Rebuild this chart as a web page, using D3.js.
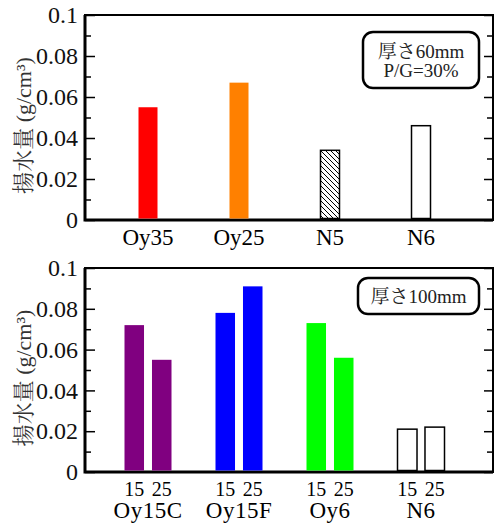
<!DOCTYPE html>
<html>
<head>
<meta charset="utf-8">
<script src="https://cdn.jsdelivr.net/npm/d3@7"></script>
</head>
<body style="margin:0">
<script>
"use strict"

let svgWidth = 495
let svgHeight = 527

// chart values
let topCategories = ["Oy35", "Oy25", "N5", "N6"]
let topValues = [0.055, 0.067, 0.034, 0.046]

let bottomGroups = ["Oy15C", "Oy15F", "Oy6", "N6"]
let subLabels = ["15", "25"]
let bottomValues15 = [0.072, 0.078, 0.073, 0.021]
let bottomValues25 = [0.055, 0.091, 0.056, 0.022]

let yTicks = [0, 0.02, 0.04, 0.06, 0.08, 0.1]
let yMinorTicks = [0.01, 0.03, 0.05, 0.07, 0.09]

// label pieces: [kanji part, latin part]
let yLabel = ["揚水量", " (g/cm³)"]
let noteTop = [["厚さ", "60mm"], ["", "P/G=30%"]]
let noteBottom = [["厚さ", "100mm"]]

// styles
let topColors = ["#ff0000", "#ff8000", "url(#hatch)", "#ffffff"]
let bottomColors = ["#800080", "#0000ff", "#00ff00", "#ffffff"]
let latinFont = '"Liberation Serif"'
let cjkFont = '"Noto Serif CJK JP", "Liberation Serif"'

let leftMargin = 85
let rightEdge = 493

let svg = d3.select("body")
    .append("svg")
    .attr("width", svgWidth)
    .attr("height", svgHeight)

let defs = svg.append("defs")
let pat = defs.append("pattern")
    .attr("id", "hatch")
    .attr("patternUnits", "userSpaceOnUse")
    .attr("width", 5)
    .attr("height", 5)
pat.append("rect").attr("width", 5).attr("height", 5).attr("fill", "#fff")
pat.append("path")
    .attr("d", "M-1,-1 L6,6 M-1,4 L1,6 M4,-1 L6,1")
    .attr("stroke", "#000")
    .attr("stroke-width", 1)

// writes a mixed kanji / latin label into a text element
function mixedText(sel, parts) {
    sel.attr("font-family", cjkFont)
    if (parts[0]) sel.append("tspan").text(parts[0])
    sel.append("tspan").attr("font-family", latinFont).text(parts[1])
}

// draws frame, y ticks and y label for one panel, returns y scale
function drawFrame(top, bottom) {
    let yScale = d3.scaleLinear()
        .domain([0, 0.1])
        .range([bottom, top])

    let fmt = function (d) { return d === 0 ? "0" : String(+d.toFixed(2)) }

    let left = svg.append("g")
        .attr("transform", `translate(${leftMargin},0)`)
        .call(d3.axisLeft(yScale).tickValues(yTicks).tickSize(-10).tickPadding(7).tickFormat(fmt))
    left.selectAll("text")
        .attr("font-family", latinFont)
        .attr("font-size", 24)
        .attr("fill", "#111")
    left.select(".domain").remove()

    let leftMinor = svg.append("g")
        .attr("transform", `translate(${leftMargin},0)`)
        .call(d3.axisLeft(yScale).tickValues(yMinorTicks).tickSize(-6).tickFormat(""))
    leftMinor.select(".domain").remove()

    let right = svg.append("g")
        .attr("transform", `translate(${rightEdge},0)`)
        .call(d3.axisRight(yScale).tickValues(yTicks).tickSize(-9).tickFormat(""))
    right.select(".domain").remove()

    let rightMinor = svg.append("g")
        .attr("transform", `translate(${rightEdge},0)`)
        .call(d3.axisRight(yScale).tickValues(yMinorTicks).tickSize(-6).tickFormat(""))
    rightMinor.select(".domain").remove()

    svg.selectAll("g.tick line").attr("stroke-width", 1.5)

    svg.append("rect")
        .attr("x", leftMargin)
        .attr("y", top)
        .attr("width", rightEdge - leftMargin)
        .attr("height", bottom - top)
        .attr("fill", "none")
        .attr("stroke", "#000")
        .attr("stroke-width", 2)

    svg.append("path")
        .attr("d", `M${leftMargin},${top} V${bottom} H${rightEdge}`)
        .attr("fill", "none")
        .attr("stroke", "#000")
        .attr("stroke-width", 3)

    let lab = svg.append("text")
        .attr("transform", `translate(31,${(top + bottom) / 2 + 8}) rotate(-90)`)
        .attr("text-anchor", "middle")
        .attr("font-size", 22)
        .attr("fill", "#333")
    mixedText(lab, yLabel)

    return yScale
}

// legend box with rounded corners
function drawNote(x, y, w, h, lines, baselines) {
    svg.append("rect")
        .attr("x", x)
        .attr("y", y)
        .attr("width", w)
        .attr("height", h)
        .attr("rx", 10)
        .attr("fill", "#fff")
        .attr("stroke", "#000")
        .attr("stroke-width", 2.5)
    lines.forEach(function (line, i) {
        let t = svg.append("text")
            .attr("x", x + w / 2)
            .attr("y", baselines[i])
            .attr("text-anchor", "middle")
            .attr("font-size", 19)
            .attr("fill", "#222")
        mixedText(t, line)
    })
}

/* top panel */
let yTop = drawFrame(15, 220)

let xTop = d3.scalePoint()
    .domain(topCategories)
    .range([leftMargin + 63, leftMargin + 336])

svg.selectAll("rect.topbar")
    .data(topCategories)
    .join("rect")
    .classed("topbar", true)
    .attr("x", function (d) { return xTop(d) - 9.5 })
    .attr("width", 19)
    .attr("y", function (d, i) { return yTop(topValues[i]) })
    .attr("height", function (d, i) { return yTop(0) - 1.5 - yTop(topValues[i]) })
    .attr("fill", function (d, i) { return topColors[i] })
    .attr("stroke", function (d, i) { return i >= 2 ? "#000" : "none" })
    .attr("stroke-width", 1.5)

svg.selectAll("text.toplabel")
    .data(topCategories)
    .join("text")
    .classed("toplabel", true)
    .attr("x", function (d) { return xTop(d) })
    .attr("y", 245)
    .attr("text-anchor", "middle")
    .attr("font-family", latinFont)
    .attr("font-size", 23)
    .text(function (d) { return d })

drawNote(363, 32, 116, 56, noteTop, [58, 77])

/* bottom panel */
let yBottom = drawFrame(268, 472)

let xGroup = d3.scalePoint()
    .domain(bottomGroups)
    .range([leftMargin + 63, leftMargin + 336])

let xSub = d3.scaleBand()
    .domain(subLabels)
    .range([-23.5, 23.5])
    .paddingInner(0.29)

let bottomData = []
bottomGroups.forEach(function (g, i) {
    bottomData.push({ group: g, sub: subLabels[0], value: bottomValues15[i], color: bottomColors[i], open: i === 3 })
    bottomData.push({ group: g, sub: subLabels[1], value: bottomValues25[i], color: bottomColors[i], open: i === 3 })
})

svg.selectAll("rect.bottombar")
    .data(bottomData)
    .join("rect")
    .classed("bottombar", true)
    .attr("x", function (d) { return xGroup(d.group) + xSub(d.sub) })
    .attr("width", xSub.bandwidth())
    .attr("y", function (d) { return yBottom(d.value) })
    .attr("height", function (d) { return yBottom(0) - 1.5 - yBottom(d.value) })
    .attr("fill", function (d) { return d.color })
    .attr("stroke", function (d) { return d.open ? "#000" : "none" })
    .attr("stroke-width", 1.5)

svg.selectAll("text.sublabel")
    .data(bottomData)
    .join("text")
    .classed("sublabel", true)
    .attr("x", function (d) { return xGroup(d.group) + xSub(d.sub) + xSub.bandwidth() / 2 })
    .attr("y", 496)
    .attr("text-anchor", "middle")
    .attr("font-family", latinFont)
    .attr("font-size", 20)
    .text(function (d) { return d.sub })

svg.selectAll("text.grouplabel")
    .data(bottomGroups)
    .join("text")
    .classed("grouplabel", true)
    .attr("x", function (d) { return xGroup(d) })
    .attr("y", 518)
    .attr("text-anchor", "middle")
    .attr("font-family", latinFont)
    .attr("font-size", 23)
    .attr("letter-spacing", 0.5)
    .text(function (d) { return d })

drawNote(358, 278, 121, 36, noteBottom, [303])
</script>
</body>
</html>
